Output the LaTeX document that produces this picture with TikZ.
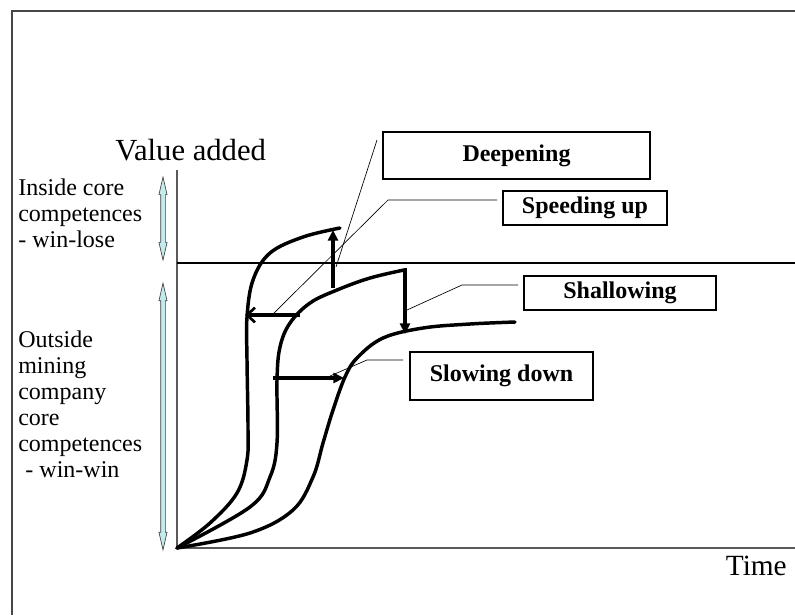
\documentclass[tikz,border=0pt]{standalone}
\usepackage{fontspec}
\setmainfont{Liberation Serif}
\usetikzlibrary{positioning, shapes.arrows, arrows.meta}
\definecolor{paleblue}{RGB}{196,234,238}
\definecolor{framegray}{RGB}{70,70,70}
\tikzstyle{curve}=[line width=2.6pt, black, line join=round, line cap=round]
\tikzstyle{move}=[line width=3pt, black]
\tikzstyle{tag}=[rectangle, draw=black, line width=0.8pt, fill=white, inner sep=0pt, font=\fontsize{18}{20}\selectfont\bfseries]
\tikzstyle{leader}=[line width=0.5pt, black]
\tikzstyle{side}=[align=left, inner sep=0pt, anchor=north west, font=\fontsize{18}{19.5}\selectfont]
\tikzstyle{band}=[double arrow, draw=black!75, fill=paleblue, rotate=90, line width=0.5pt, inner sep=1.5pt, minimum width=5.6pt, double arrow head extend=1.3pt, double arrow tip angle=26]

\begin{document}
\begin{tikzpicture}[x=0.75pt, y=-0.75pt]
            \useasboundingbox (0,0) rectangle (795,615);
            %frame, axes and the core competence line
            \draw[framegray, line width=1.5pt] (795,11) -- (12,11) -- (12,615);
            \draw[gray!70!black, line width=0.8pt] (177,170) -- (177,548) -- (795,548);
            \draw[line width=1pt] (177,263) -- (795,263);
            \node[anchor=base west, inner sep=0pt, font=\fontsize{23}{27}\selectfont] (vadd) at (115,160) {Value added};
            \node[anchor=base east, inner sep=0pt, font=\fontsize{22}{26}\selectfont] (time) at (787,575) {Time};

            %zones on the value axis
            \node[side] (inside) at (18,178.6) {Inside core\\competences\\- win-lose};
            \node[side] (outside) at (18,330.6) {Outside\\mining\\company\\core\\competences\\\hspace{0.3em}- win-win};
            \node[band, minimum height=62.25pt] (inarr) at (163,218.5) {};
            \node[band, minimum height=200pt] (outarr) at (163,416.5) {};

            %the three s-curves
            \draw[curve] plot[smooth, tension=0.6] coordinates {(177,548) (210,523) (237,493) (247,460) (248,427) (247,360) (247,317) (253,280) (270,253) (303,237) (340,228)};
            \draw[curve] plot[smooth, tension=0.6] coordinates {(177,548) (250,507) (270,477) (277,443) (277,380) (280,347) (290,323) (310,303) (337,290) (370,278) (404,270)};
            \draw[curve] plot[smooth, tension=0.6] coordinates {(177,548) (250,533) (293,510) (313,477) (323,443) (333,410) (345,377) (357,358) (383,338) (423,328) (470,324) (515,322)};

            %shifts between the curves
            \coordinate (dp0) at (333,288);
            \coordinate (dp1) at (333,230);
            \coordinate (sp0) at (300,315);
            \coordinate (sp1) at (245,315);
            \coordinate (sh0) at (405,270);
            \coordinate (sh1) at (405,334);
            \coordinate (sl0) at (273,378);
            \coordinate (sl1) at (344,378);
            \draw[move, -{Triangle[length=8pt, width=7.5pt]}] (dp0) -- (dp1);
            \draw[move, -{Straight Barb[length=6pt, width=11pt, line width=2pt]}] (sp0) -- (sp1);
            \draw[move, line join=miter, -{Triangle[length=8pt, width=7.5pt]}] (404,270) -- (sh0) -- (sh1);
            \draw[move, -{Triangle[length=8pt, width=7.5pt]}] (sl0) -- (sl1);

            %labels and their leaders
            \node[tag, minimum width=200.25pt, minimum height=35.25pt] (deep) at (516.5,155.5) {Deepening};
            \node[tag, minimum width=123pt, minimum height=25.5pt] (speed) at (585,208) {Speeding up};
            \node[tag, minimum width=144pt, minimum height=25.5pt] (shallow) at (620,293) {Shallowing};
            \node[tag, minimum width=137.25pt, minimum height=36pt] (slow) at (501.5,376) {Slowing down};
            \coordinate (dpl) at (377,140);
            \coordinate (dpe) at (336,267);
            \coordinate (spl) at (497,200);
            \coordinate (spk) at (388,200);
            \coordinate (spe) at (272,315);
            \coordinate (shl) at (518,285);
            \coordinate (shk) at (462,285);
            \coordinate (she) at (407,310);
            \coordinate (sll) at (403,360);
            \coordinate (slk) at (367,360);
            \coordinate (sle) at (330,376);
            \draw[leader] (dpl) -- (dpe);
            \draw[leader] (spl) -- (spk) -- (spe);
            \draw[leader] (shl) -- (shk) -- (she);
            \draw[leader] (sll) -- (slk) -- (sle);
\end{tikzpicture}
\end{document}
